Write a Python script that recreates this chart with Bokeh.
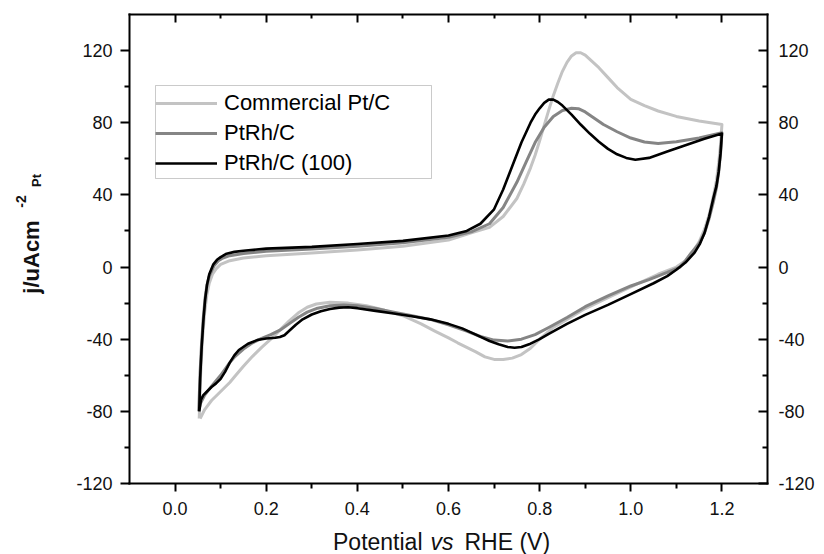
import math
from bokeh.plotting import figure
from bokeh.models import (Range1d, LinearAxis, FixedTicker, Label, Legend, LegendItem,
                          PrintfTickFormatter, BoxAnnotation)
from bokeh.embed import file_html
from bokeh.resources import INLINE

# ---------------- data ----------------
series_names = ["Commercial Pt/C", "PtRh/C", "PtRh/C (100)"]

ptc_v = [0.053, 0.056, 0.06, 0.065, 0.07, 0.075, 0.082, 0.09, 0.1, 0.12, 0.15, 0.2, 0.3, 0.4, 0.5,
         0.6, 0.65, 0.69, 0.72, 0.75, 0.765, 0.78, 0.79, 0.8, 0.81, 0.82, 0.83, 0.84, 0.85, 0.86,
         0.87, 0.88, 0.89, 0.9, 0.915, 0.93, 0.95, 0.97, 1.0, 1.03, 1.06, 1.1, 1.15, 1.2,
         1.197, 1.193, 1.188, 1.181, 1.172, 1.162, 1.15, 1.135, 1.12, 1.1, 1.06, 1.0, 0.95, 0.9,
         0.86, 0.83, 0.8, 0.78, 0.76, 0.74, 0.72, 0.7, 0.68, 0.66, 0.64, 0.62, 0.6, 0.57, 0.54,
         0.5, 0.46, 0.42, 0.38, 0.34, 0.31, 0.29, 0.27, 0.25, 0.23, 0.21, 0.19, 0.17, 0.15, 0.13,
         0.12, 0.1, 0.08, 0.065, 0.055]
ptc_j = [-84, -60, -40, -25, -15, -9, -4, -1, 1.5, 3.5, 5, 6.2, 7.8, 9.5, 11.5,
         15, 19, 22, 28, 38, 46, 55, 62, 70, 78.5, 87, 95, 102, 108.5, 113.5,
         117, 118.8, 118.8, 117.5, 114, 110.5, 105, 99.5, 93, 89.5, 86.5, 83.5, 81, 79,
         68, 58, 48, 39, 29, 21, 14, 8, 3.5, 0, -4, -11, -17, -23,
         -29, -33.5, -40, -45, -48.5, -50.5, -51.3, -51.2, -49.8, -47, -44.5, -42, -39.3, -35.5, -31.5,
         -27, -24, -21.5, -20, -19.5, -20.5, -22.3, -25.5, -30, -35, -40, -44.5, -49.5, -55, -61,
         -64, -69, -74, -79, -84]

ptrh_v = [0.052, 0.055, 0.058, 0.062, 0.066, 0.07, 0.075, 0.085, 0.095, 0.105, 0.12, 0.15, 0.2, 0.3,
          0.4, 0.5, 0.6, 0.65, 0.69, 0.72, 0.75, 0.77, 0.79, 0.81, 0.83, 0.85, 0.87, 0.885, 0.9,
          0.92, 0.94, 0.97, 1.0, 1.03, 1.06, 1.1, 1.15, 1.2,
          1.197, 1.193, 1.188, 1.181, 1.172, 1.162, 1.15, 1.133, 1.12, 1.108, 1.08, 1.04, 1.0,
          0.95, 0.9, 0.86, 0.82, 0.79, 0.76, 0.73, 0.7, 0.67, 0.64, 0.6, 0.56, 0.52, 0.48, 0.44,
          0.4, 0.37, 0.34, 0.31, 0.29, 0.27, 0.25, 0.23, 0.21, 0.19, 0.17, 0.15, 0.13, 0.12, 0.1,
          0.08, 0.065, 0.055, 0.052]
ptrh_j = [-80, -58, -43, -28, -17, -10, -5, 0.5, 3.5, 5, 6.3, 7.5, 8.8, 10,
          11.5, 13.5, 16.5, 19.5, 24, 33, 47, 58, 69, 77.5, 83.5, 86.8, 88, 87.8, 86,
          82.5, 79, 75, 71.5, 69.3, 68.5, 69.5, 71.5, 74.5,
          63, 53, 44, 36, 27, 19, 13, 8, 3.5, 0, -3, -7, -10.5,
          -16, -22, -28, -33.5, -37.5, -40, -41, -40.5, -38.5, -35.5, -32, -29, -27, -25, -23,
          -21.5, -21, -21.5, -23, -25, -28, -31.5, -35, -37.5, -39.5, -42, -45.5, -50, -53, -60,
          -66, -71, -76, -80]

ptrh100_v = [0.053, 0.055, 0.058, 0.062, 0.066, 0.07, 0.075, 0.084, 0.092, 0.1, 0.113, 0.13, 0.15,
             0.2, 0.3, 0.4, 0.5, 0.6, 0.64, 0.67, 0.7, 0.72, 0.74, 0.76, 0.78, 0.79, 0.8, 0.81,
             0.82, 0.83, 0.84, 0.85, 0.87, 0.89, 0.91, 0.93, 0.95, 0.97, 0.99, 1.01, 1.04, 1.08,
             1.12, 1.16, 1.2,
             1.197, 1.193, 1.188, 1.181, 1.172, 1.162, 1.152, 1.14, 1.12, 1.1, 1.08, 1.05, 1.0,
             0.95, 0.9, 0.86, 0.82, 0.8, 0.78, 0.76, 0.745, 0.73, 0.71, 0.69, 0.66, 0.63, 0.6,
             0.56, 0.52, 0.48, 0.44, 0.4, 0.38, 0.36, 0.34, 0.32, 0.3, 0.28, 0.265, 0.25, 0.24,
             0.23, 0.22, 0.2, 0.18, 0.16, 0.14, 0.13, 0.12, 0.11, 0.1, 0.09, 0.08, 0.07, 0.062,
             0.057, 0.053]
ptrh100_j = [-80, -62, -46, -30, -18, -10, -4, 1.5, 4, 5.5, 7.4, 8.4, 9,
             10.2, 11.2, 12.8, 14.5, 17.5, 20, 24, 32, 43, 56, 69, 80, 84.5, 88, 91,
             92.8, 92.8, 91.5, 89.5, 84.5, 79, 74, 69.5, 65.5, 62.5, 60.5, 59.5, 60.5, 64,
             67.5, 71, 74,
             63, 53, 45, 38, 28, 19, 13, 8, 2.5, -1.5, -5, -9, -15,
             -21, -26.5, -31.5, -37, -40, -42.5, -44.3, -44.7, -44.3, -42.8, -41, -37.5, -34, -31.5,
             -29, -27.3, -25.8, -24.3, -22.8, -22.3, -22.5, -23.3, -24.5, -26.3, -29, -32, -35.5, -37.8,
             -38.8, -39.2, -39.6, -40.5, -42.5, -46, -49, -53, -58, -62, -64.5, -66.5, -69, -71,
             -73.5, -80]

x_ticks = [0.0, 0.2, 0.4, 0.6, 0.8, 1.0, 1.2]
x_minor = [0.1, 0.3, 0.5, 0.7, 0.9, 1.1]
y_ticks = [-120, -80, -40, 0, 40, 80, 120]
y_minor = [-100, -60, -20, 20, 60, 100]
x_limits = (-0.1, 1.3)
y_limits = (-120, 140)

colors = ["#c3c3c3", "#858585", "#000000"]
widths = [3, 3, 2.6]
FONT = "Liberation Sans"

# ---------------- layout: the frame covers the whole canvas, axes are pinned ----------------
W, H = 824, 554
box_l, box_r, box_t, box_b = 129, 767, 14, 483   # pixel edges of the drawn axes box
sx = (x_limits[1] - x_limits[0]) / (box_r - box_l)
sy = (y_limits[1] - y_limits[0]) / (box_b - box_t)
xr = Range1d(x_limits[0] - box_l * sx, x_limits[1] + (W - box_r) * sx)
yr = Range1d(y_limits[0] - (H - box_b) * sy, y_limits[1] + box_t * sy)

p = figure(width=W, height=H, x_range=xr, y_range=yr, x_axis_location=None, y_axis_location=None,
           min_border=0, output_backend="svg", toolbar_location=None)
p.outline_line_color = None
for g in p.grid:
    g.visible = False
p.background_fill_color = "white"
p.border_fill_color = "white"


def make_axis(loc, bounds, ticks, minor, fmt, tin, tout, mtin, mtout, labels, standoff):
    ax = LinearAxis(fixed_location=loc, bounds=bounds,
                    ticker=FixedTicker(ticks=ticks, minor_ticks=minor),
                    formatter=PrintfTickFormatter(format=fmt))
    ax.axis_line_width = 2
    ax.axis_line_color = "black"
    ax.axis_line_cap = "square"
    ax.major_tick_line_width = 2
    ax.minor_tick_line_width = 2
    ax.major_tick_in = tin
    ax.major_tick_out = tout
    ax.minor_tick_in = mtin
    ax.minor_tick_out = mtout
    ax.major_label_text_font = FONT
    ax.major_label_text_font_size = "18px"
    ax.major_label_text_color = "#111111" if labels else None
    ax.major_label_standoff = standoff
    return ax


p.add_layout(make_axis(y_limits[0], x_limits, x_ticks, x_minor, "%.1f", 0, 8, 0, 5, True, 10), "below")
p.add_layout(make_axis(y_limits[1], x_limits, x_ticks, x_minor, "%.1f", 8, 0, 4, 0, False, 0), "above")
p.add_layout(make_axis(x_limits[0], y_limits, y_ticks, y_minor, "%d", 0, 9, 0, 5, True, 8), "left")
p.add_layout(make_axis(x_limits[1], y_limits, y_ticks, y_minor, "%d", 9, 0, 5, 0, True, 11), "right")

renderers = []
for vv, jj, c, w in zip([ptc_v, ptrh_v, ptrh100_v], [ptc_j, ptrh_j, ptrh100_j], colors, widths):
    renderers.append(p.line(vv, jj, line_color=c, line_width=w, line_join="round"))

# legend frame
p.add_layout(BoxAnnotation(left=155, right=431, top=H - 85, bottom=H - 178,
                           left_units="screen", right_units="screen",
                           top_units="screen", bottom_units="screen",
                           fill_color="white", fill_alpha=1,
                           line_color="#505050", line_width=1))
legend = Legend(items=[LegendItem(label=n, renderers=[r]) for n, r in zip(series_names, renderers)],
                location=(155, H - 178), padding=2, spacing=0, margin=0,
                glyph_width=62, glyph_height=30, label_height=30,
                label_standoff=7, label_text_font=FONT, label_text_font_size="22px",
                label_text_color="black", border_line_color=None,
                background_fill_alpha=0)
p.add_layout(legend, "center")

# x axis title: "Potential vs RHE (V)" with italic "vs"
for txt, x, align, style in [("Potential", 422, "right", "normal"),
                             ("vs", 430, "left", "italic"),
                             ("RHE (V)", 464, "left", "normal")]:
    p.add_layout(Label(x=x, y=H - 541.5, x_units="screen", y_units="screen", text=txt,
                       text_align=align, text_baseline="middle", text_font=FONT,
                       text_font_size="23px", text_font_style=style, text_color="#111111"))

# y axis title: j/uAcm^-2 _Pt
for txt, x, y, size in [("j/uAcm", 31, 256.5, "22px"),
                        ("-2", 20, 201, "14px"),
                        ("Pt", 36, 180, "13px")]:
    p.add_layout(Label(x=x, y=H - y, x_units="screen", y_units="screen", text=txt,
                       angle=math.pi / 2, text_align="center", text_baseline="middle",
                       text_font=FONT, text_font_size=size, text_font_style="bold",
                       text_color="#111111"))

open("out.html", "w").write(file_html(p, INLINE))
